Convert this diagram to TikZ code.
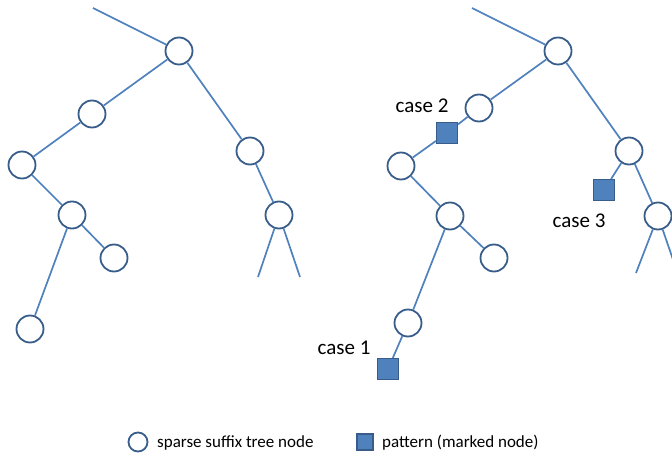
\documentclass[tikz,border=0pt]{standalone}
\usepackage{fontspec}
\setmainfont{Carlito}

\begin{document}
\begin{tikzpicture}[x=1pt, y=-1pt]

\definecolor{edgeblue}{RGB}{79, 129, 189}
\definecolor{rimblue}{RGB}{56, 93, 138}

% Page frame
\useasboundingbox (0,0) rectangle (672,454);

\tikzset{
    tree node/.style={
        draw=rimblue, line width=1.8pt, fill=white,
        circle, inner sep=0pt,
        minimum size=27pt
    },
    marked node/.style={
        draw=rimblue, line width=1.2pt, fill=edgeblue,
        rectangle, inner sep=0pt,
        minimum size=21pt
    },
    branch/.style={
        draw=edgeblue, line width=1.7pt
    },
    case label/.style={
        font=\fontsize{21}{24}\selectfont, text=black, inner sep=0pt, anchor=base
    },
    legend text/.style={
        font=\fontsize{17}{20}\selectfont, text=black, inner sep=0pt, anchor=base west
    }
}

% Left tree
\node[tree node] (L1) at (179, 51) {};
\node[tree node] (L2) at (92, 114) {};
\node[tree node] (L3) at (22, 165) {};
\node[tree node] (L4) at (72, 215) {};
\node[tree node] (L5) at (114, 258) {};
\node[tree node] (L6) at (30, 329) {};
\node[tree node] (L7) at (250, 151) {};
\node[tree node] (L8) at (279, 215) {};
\coordinate (Ltop) at (93, 8);
\coordinate (Lend1) at (258, 277);
\coordinate (Lend2) at (300, 277);

\draw[branch] (Ltop) -- (L1);
\draw[branch] (L1) -- (L2);
\draw[branch] (L2) -- (L3);
\draw[branch] (L3) -- (L4);
\draw[branch] (L4) -- (L5);
\draw[branch] (L4) -- (L6);
\draw[branch] (L1) -- (L7);
\draw[branch] (L7) -- (L8);
\draw[branch] (L8) -- (Lend1);
\draw[branch] (L8) -- (Lend2);

% Right tree with the marked nodes
\node[tree node] (R1) at (558, 51) {};
\node[tree node] (R2) at (479, 108) {};
\node[tree node] (R3) at (401, 166) {};
\node[tree node] (R4) at (450, 216) {};
\node[tree node] (R5) at (494, 258) {};
\node[tree node] (R6) at (408, 323) {};
\node[tree node] (R7) at (629, 151) {};
\node[tree node] (R8) at (658, 216) {};
\node[marked node] (P1) at (388, 369) {};
\node[marked node] (P2) at (447, 133) {};
\node[marked node] (P3) at (604, 190) {};
\coordinate (Rtop) at (472, 8);
\coordinate (Rend1) at (636, 273);
\coordinate (Rend2) at (679, 277);

\draw[branch] (Rtop) -- (R1);
\draw[branch] (R1) -- (R2);
\draw[branch] (R2) -- (P2);
\draw[branch] (P2) -- (R3);
\draw[branch] (R3) -- (R4);
\draw[branch] (R4) -- (R5);
\draw[branch] (R4) -- (R6);
\draw[branch] (R6) -- (P1);
\draw[branch] (R1) -- (R7);
\draw[branch] (R7) -- (P3);
\draw[branch] (R7) -- (R8);
\draw[branch] (R8) -- (Rend1);
\draw[branch] (R8) -- (Rend2);

% Case labels
\node[case label] (C1) at (344, 354) {case 1};
\node[case label] (C2) at (422, 113) {case 2};
\node[case label] (C3) at (579, 228) {case 3};

% Legend
\node[tree node, minimum size=19pt] (KeyTree) at (138, 442) {};
\node[legend text] (KeyTreeText) at (157, 447) {sparse suffix tree node};
\node[marked node, minimum size=16pt] (KeyMark) at (365, 442) {};
\node[legend text] (KeyMarkText) at (382, 447) {pattern (marked node)};

\end{tikzpicture}
\end{document}
